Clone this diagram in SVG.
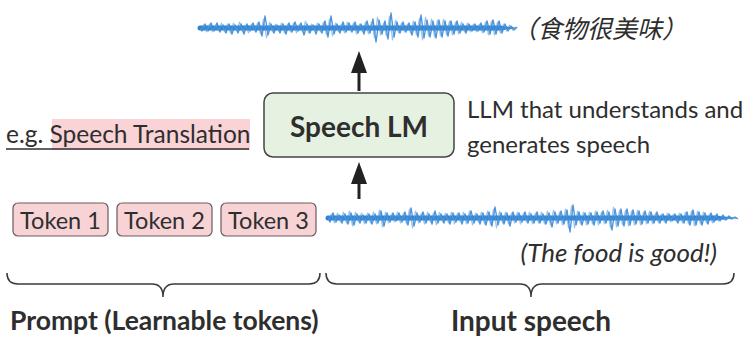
<svg xmlns="http://www.w3.org/2000/svg" width="744" height="338" viewBox="0 0 744 338">
<style>
.t{font-family:Lato,"Open Sans","Liberation Sans",sans-serif;fill:#2e2e2e}
.b{font-weight:bold}
.wave{fill:none;stroke:#3a8ad6;stroke-width:1.4;stroke-linejoin:round;opacity:0.9}
.wave2{fill:none;stroke:#5a9fe0;stroke-width:1.2;stroke-linejoin:round;opacity:0.6}
.band{stroke:#2f82d0;stroke-linecap:round}
.tok{fill:#f8d3d6;stroke:#6a5a5c;stroke-width:1.2}
.brace{fill:none;stroke:#3a3a3a;stroke-width:1.5}
.arr{stroke:#222;stroke-width:3}
</style>

<g id="output-wave">
<path class="band" d="M200,28 L500,28" stroke-width="5"/>
<polygon points="500,25.5 518,28 500,30.5" fill="#2f82d0"/>
<polyline class="wave" points="199,26 202,31 205,24 208,31 211,23 214,31 217,23 220,32 223,25 226,33 229,24 232,34 235,25 238,33 241,24 244,34 247,24 250,31 253,23 256,32 259,22 262,36 265,16 268,35 271,24 274,33 277,25 280,33 283,24 286,34 289,23 292,32 295,22 298,31 301,23 304,35 307,24 310,33 313,25 316,34 319,24 322,33 325,21 328,37 331,16 334,34 337,24 340,33 343,22 346,32 349,23 352,32 355,22 358,33 361,24 364,34 367,21 370,33 373,19 376,42 379,20 382,34 385,21 388,39 391,13 394,37 397,22 400,33 403,22 406,32 409,23 412,35 415,22 418,37 421,15 424,38 427,20 430,37 433,21 436,38 439,20 442,37 445,21 448,36 451,21 454,34 457,21 460,33 463,24 466,33 469,24 472,31 475,24 478,31 481,23 484,32 487,21 490,34 493,20 496,34 499,21 502,33 505,24 508,31 511,26 514,30 517,27"/>
<polyline class="wave2" points="200.5,30 203.5,25 206.5,32 209.5,24 212.5,32 215.5,25 218.5,31 221.5,23 224.5,32 227.5,24 230.5,33 233.5,23 236.5,31 239.5,22 242.5,32 245.5,25 248.5,33 251.5,24 254.5,31 257.5,23 260.5,34 263.5,19 266.5,38 269.5,22 272.5,32 275.5,24 278.5,31 281.5,23 284.5,33 287.5,24 290.5,32 293.5,23 296.5,33 299.5,24 302.5,32 305.5,21 308.5,33 311.5,24 314.5,31 317.5,23 320.5,32 323.5,22 326.5,35 329.5,19 332.5,36 335.5,23 338.5,32 341.5,24 344.5,33 347.5,22 350.5,31 353.5,23 356.5,34 359.5,24 362.5,32 365.5,22 368.5,34 371.5,22 374.5,38 377.5,17 380.5,35 383.5,23 386.5,36 389.5,16 392.5,40 395.5,20 398.5,33 401.5,23 404.5,32 407.5,24 410.5,33 413.5,21 416.5,35 419.5,18 422.5,40 425.5,17 428.5,36 431.5,19 434.5,37 437.5,20 440.5,36 443.5,19 446.5,35 449.5,21 452.5,35 455.5,22 458.5,34 461.5,22 464.5,32 467.5,23 470.5,32 473.5,24 476.5,32 479.5,24 482.5,33 485.5,22 488.5,35 491.5,21 494.5,35 497.5,22 500.5,33 503.5,24 506.5,31 509.5,25 512.5,30 515.5,27"/>
</g>
<g id="output-text">
<text x="512" y="38" font-family="'Noto Sans CJK SC',sans-serif" font-size="25" font-style="italic" fill="#2e2e2e">（食物很美味）</text>
</g>

<g id="speech-lm">
<rect x="264" y="93" width="190" height="64" rx="9" fill="#e5f1e1" stroke="#444" stroke-width="1.5"/>
<text class="t b" x="359" y="137" font-size="28" text-anchor="middle">Speech LM</text>
</g>

<g id="description">
<text class="t" x="467" y="118" font-size="24">LLM that understands and</text>
<text class="t" x="467" y="153" font-size="24">generates speech</text>
</g>

<g id="task">
<rect x="52" y="119" width="198" height="31" fill="#f9d3d6"/>
<text class="t" x="6" y="143" font-size="24.5">e.g. Speech Translation</text>
<line x1="6" y1="149" x2="249" y2="149" stroke="#2e2e2e" stroke-width="1.4"/>
</g>

<g id="token1">
<rect class="tok" x="13" y="203" width="95" height="33" rx="5"/>
<text class="t" x="60.5" y="229" font-size="23.5" text-anchor="middle">Token 1</text>
</g>
<g id="token2">
<rect class="tok" x="117" y="203" width="95" height="33" rx="5"/>
<text class="t" x="164.5" y="229" font-size="23.5" text-anchor="middle">Token 2</text>
</g>
<g id="token3">
<rect class="tok" x="221" y="203" width="95" height="33" rx="5"/>
<text class="t" x="268.5" y="229" font-size="23.5" text-anchor="middle">Token 3</text>
</g>

<g id="input-wave">
<path class="band" d="M328,218 L715,218" stroke-width="5"/>
<polygon points="715,215.5 738,218 715,220.5" fill="#2f82d0"/>
<polyline class="wave" points="327,216 330,222 333,213 336,222 339,215 342,223 345,214 348,224 351,213 354,225 357,214 360,223 363,215 366,223 369,214 372,224 375,214 378,223 381,211 384,226 387,213 390,222 393,213 396,221 399,213 402,222 405,212 408,225 411,208 414,226 417,213 420,222 423,212 426,223 429,214 432,224 435,211 438,223 441,214 444,223 447,214 450,224 453,213 456,222 459,213 462,224 465,214 468,223 471,211 474,223 477,214 480,224 483,213 486,225 489,212 492,226 495,207 498,225 501,213 504,224 507,213 510,226 513,212 516,222 519,213 522,222 525,212 528,223 531,214 534,223 537,212 540,223 543,214 546,224 549,213 552,227 555,212 558,223 561,211 564,224 567,210 570,232 573,205 576,225 579,212 582,225 585,213 588,224 591,213 594,225 597,212 600,223 603,211 606,223 609,212 612,230 615,209 618,226 621,209 624,226 627,209 630,225 633,210 636,224 639,211 642,224 645,211 648,223 651,212 654,223 657,212 660,223 663,214 666,223 669,214 672,221 675,214 678,223 681,214 684,223 687,212 690,225 693,210 696,225 699,212 702,225 705,213 708,224 711,213 714,222 717,214 720,221 723,215 726,220 729,216 732,219 735,217 738,219"/>
<polyline class="wave2" points="328.5,220 331.5,214 334.5,223 337.5,213 340.5,222 343.5,212 346.5,223 349.5,211 352.5,226 355.5,212 358.5,222 361.5,213 364.5,224 367.5,213 370.5,223 373.5,212 376.5,224 379.5,210 382.5,227 385.5,212 388.5,223 391.5,214 394.5,222 397.5,212 400.5,223 403.5,213 406.5,224 409.5,209 412.5,228 415.5,211 418.5,223 421.5,213 424.5,224 427.5,212 430.5,222 433.5,213 436.5,225 439.5,212 442.5,222 445.5,213 448.5,223 451.5,212 454.5,224 457.5,213 460.5,222 463.5,212 466.5,224 469.5,211 472.5,225 475.5,213 478.5,222 481.5,212 484.5,224 487.5,211 490.5,225 493.5,209 496.5,228 499.5,211 502.5,223 505.5,212 508.5,224 511.5,213 514.5,223 517.5,212 520.5,224 523.5,213 526.5,222 529.5,212 532.5,224 535.5,213 538.5,223 541.5,212 544.5,224 547.5,211 550.5,225 553.5,210 556.5,224 559.5,212 562.5,225 565.5,209 568.5,228 571.5,206 574.5,228 577.5,211 580.5,224 583.5,212 586.5,225 589.5,212 592.5,224 595.5,211 598.5,225 601.5,212 604.5,224 607.5,210 610.5,228 613.5,207 616.5,227 619.5,210 622.5,225 625.5,210 628.5,226 631.5,211 634.5,225 637.5,210 640.5,225 643.5,212 646.5,224 649.5,211 652.5,224 655.5,213 658.5,223 661.5,214 664.5,222 667.5,213 670.5,222 673.5,214 676.5,222 679.5,213 682.5,223 685.5,212 688.5,224 691.5,211 694.5,226 697.5,211 700.5,224 703.5,212 706.5,223 709.5,214 712.5,223 715.5,215 718.5,221 721.5,216 724.5,220 727.5,217 730.5,219 733.5,217.5 736.5,218.5"/>
</g>
<g id="input-text">
<text class="t" x="717" y="262" font-size="26" font-style="italic" text-anchor="end">(The food is good!)</text>
</g>

<g id="connectors">
<line class="arr" x1="359" y1="91" x2="359" y2="70"/>
<polygon points="359,51 351,73 367,73" fill="#222"/>
<line class="arr" x1="359" y1="199" x2="359" y2="180"/>
<polygon points="359,162 351,184 367,184" fill="#222"/>
</g>

<g id="braces">
<path class="brace" d="M7,273 Q7,284 18,284 L152,284 Q163,284 163,297 Q163,284 174,284 L309,284 Q320,284 320,273"/>
<path class="brace" d="M326,273 Q326,284 337,284 L520,284 Q531,284 531,297 Q531,284 542,284 L723,284 Q734,284 734,273"/>
</g>

<g id="labels">
<text class="t b" x="10" y="330" font-size="26.5">Prompt (Learnable tokens)</text>
<text class="t b" x="531" y="331" font-size="28" text-anchor="middle">Input speech</text>
</g>
</svg>
